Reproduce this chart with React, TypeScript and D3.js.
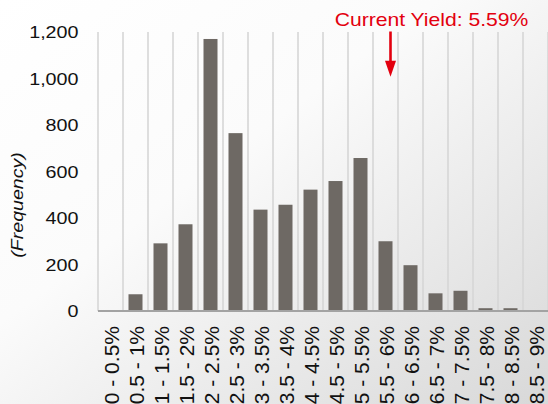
import React from "react";
import * as d3 from "d3";

const categories = [
  "0 - 0.5%", "0.5 - 1%", "1 - 1.5%", "1.5 - 2%", "2 - 2.5%", "2.5 - 3%",
  "3 - 3.5%", "3.5 - 4%", "4 - 4.5%", "4.5 - 5%", "5 - 5.5%", "5.5 - 6%",
  "6 - 6.5%", "6.5 - 7%", "7 - 7.5%", "7.5 - 8%", "8 - 8.5%", "8.5 - 9%",
];
const frequencies = [0, 72, 291, 373, 1170, 765, 436, 457, 522, 559, 658, 300, 197, 76, 87, 12, 12, 0];
const yTicks = [0, 200, 400, 600, 800, 1000, 1200];
const yAxisTitle = "(Frequency)";
const currentYieldLabel = "Current Yield: 5.59%";
const currentYieldCategory = "5.5 - 6%";
const currentYieldFraction = 0.7; // position inside the band

const W = 548;
const H = 404;
const plotLeft = 98;
const plotRight = 548;
const plotTop = 32;
const plotBottom = 311;

export default function App() {
  const x = d3
    .scaleBand<string>()
    .domain(categories)
    .range([plotLeft, plotRight])
    .paddingInner(0.44)
    .paddingOuter(0.22);
  const step = x.step();
  const y = d3.scaleLinear().domain([0, 1200]).range([plotBottom, plotTop]);
  const fmt = d3.format(",");

  const boundaries = d3.range(categories.length + 1).map((i) => plotLeft + i * step);
  const bandStart = (c: string) => (x(c) as number) - x.paddingInner() * step / 2;
  const arrowX = bandStart(currentYieldCategory) + step * currentYieldFraction;

  const font = "'Liberation Sans', Arial, Helvetica, sans-serif";

  return (
    <svg
      width={W}
      height={H}
      style={{ position: "absolute", left: 0, top: 0, display: "block" }}
      fontFamily={font}
    >
      <defs>
        <linearGradient id="bg" x1="0" y1="0" x2="1" y2="1">
          <stop offset="0" stopColor="#ffffff" />
          <stop offset="0.4" stopColor="#fbfbfb" />
          <stop offset="1" stopColor="#d8d8d8" />
        </linearGradient>
      </defs>
      <rect x={0} y={0} width={W} height={H} fill="url(#bg)" />

      {boundaries.map((bx, i) => (
        <line
          key={"g" + i}
          x1={bx}
          x2={bx}
          y1={plotTop}
          y2={plotBottom}
          stroke="#d6d6d6"
          strokeWidth={1.6}
        />
      ))}

      {categories.map((c, i) => (
        <rect
          key={"b" + i}
          x={x(c)}
          y={y(frequencies[i])}
          width={x.bandwidth()}
          height={plotBottom - y(frequencies[i])}
          fill="#6e6964"
        />
      ))}

      <line
        x1={plotLeft}
        x2={plotRight}
        y1={plotBottom}
        y2={plotBottom}
        stroke="#a3a3a3"
        strokeWidth={2}
      />

      {yTicks.map((t) => (
        <text
          key={"y" + t}
          transform={`translate(78.5,${y(t) + 6.3}) scale(1.16,1)`}
          textAnchor="end"
          fontSize={17}
          fill="#111"
        >
          {fmt(t)}
        </text>
      ))}

      {categories.map((c, i) => (
        <text
          key={"x" + i}
          transform={`translate(${(x(c) as number) + x.bandwidth() / 2 + 8.2},326) rotate(-90)`}
          textAnchor="end"
          fontSize={21}
          fill="#111"
        >
          {c}
        </text>
      ))}

      <text
        transform={`translate(23.3,205) rotate(-90) scale(1.2,1)`}
        textAnchor="middle"
        fontSize={16.3}
        fontStyle="italic"
        fill="#111"
      >
        {yAxisTitle}
      </text>

      <text
        transform={`translate(431.5,25.8) scale(1.136,1)`}
        textAnchor="middle"
        fontSize={18.6}
        fill="#e3000f"
      >
        {currentYieldLabel}
      </text>
      <line
        x1={arrowX}
        x2={arrowX}
        y1={31.5}
        y2={62}
        stroke="#e3000f"
        strokeWidth={2.6}
      />
      <path
        d={`M${arrowX - 5.5},60.7 L${arrowX + 5.5},60.7 L${arrowX},76.7 Z`}
        fill="#e3000f"
      />
    </svg>
  );
}
